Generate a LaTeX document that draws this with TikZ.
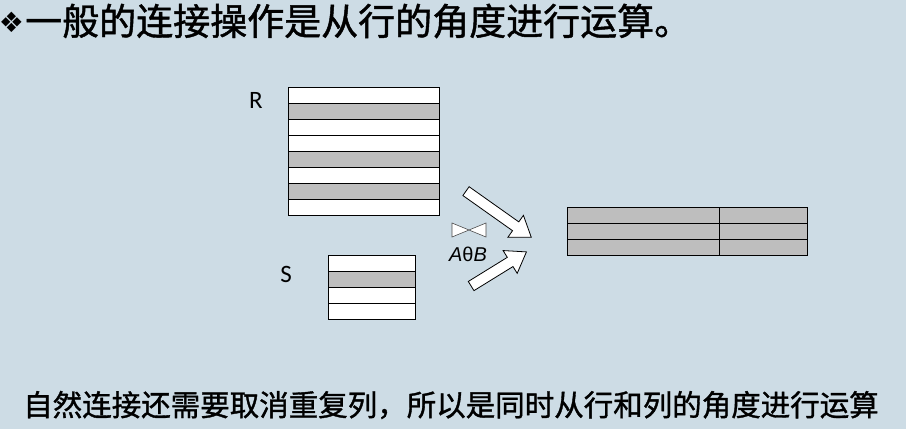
\documentclass[tikz,border=0pt]{standalone}
\usepackage{fontspec}
\setmainfont{Liberation Sans}
\newfontfamily\cjk[FakeBold=1.2]{Noto Sans CJK SC}
\newfontfamily\dingfont{DejaVu Sans}
\newfontfamily\labelfont{Carlito}
\usetikzlibrary{positioning,shapes.arrows}
\definecolor{slidebg}{RGB}{205,220,229}
\definecolor{rowgray}{RGB}{190,190,190}

\tikzset{
  whiterow/.style={draw, fill=white, line width=0.9pt, minimum width=#1,
    minimum height=16pt, inner sep=0pt, outer sep=0pt},
  grayrow/.style={whiterow=#1, fill=rowgray},
  tablabel/.style={font=\labelfont\fontsize{25}{25}\selectfont},
  bigarrow/.style={single arrow, draw, fill=white, line width=0.8pt,
    inner xsep=0pt, inner ysep=5pt, single arrow head extend=8pt,
    single arrow tip angle=70},
  bowtie/.style={draw=black!70, fill=white, line width=0.6pt}
}

\begin{document}
\begin{tikzpicture}[x=1pt, y=-1pt]
  % Background
  \fill[slidebg] (0,0) rectangle (906,429);
  \useasboundingbox (0,0) rectangle (906,429);

  % Title
  \node[anchor=center, inner sep=0pt] (bullet) at (11.5,22)
    {\dingfont\fontsize{28}{28}\selectfont ❖};
  \node[anchor=west, inner sep=0pt] (title) at (25,21)
    {\cjk\fontsize{37}{37}\selectfont 一般的连接操作是从行的角度进行运算。};

  % Relation R
  \node[whiterow=151pt, anchor=north west] (r1) at (288,87) {};
  \node[grayrow=151pt, below=0pt of r1] (r2) {};
  \node[whiterow=151pt, below=0pt of r2] (r3) {};
  \node[whiterow=151pt, below=0pt of r3] (r4) {};
  \node[grayrow=151pt, below=0pt of r4] (r5) {};
  \node[whiterow=151pt, below=0pt of r5] (r6) {};
  \node[grayrow=151pt, below=0pt of r6] (r7) {};
  \node[whiterow=151pt, below=0pt of r7] (r8) {};
  \node[tablabel] (rname) at (256,100) {R};

  % Relation S
  \node[whiterow=87pt, anchor=north west] (s1) at (328,255) {};
  \node[grayrow=87pt, below=0pt of s1] (s2) {};
  \node[whiterow=87pt, below=0pt of s2] (s3) {};
  \node[whiterow=87pt, below=0pt of s3] (s4) {};
  \node[tablabel] (sname) at (286,274) {S};

  % Result of the join
  \node[grayrow=152pt, anchor=north west] (t1) at (567,207) {};
  \node[grayrow=152pt, below=0pt of t1] (t2) {};
  \node[grayrow=152pt, below=0pt of t2] (t3) {};
  \node[grayrow=88pt, right=0pt of t1] (u1) {};
  \node[grayrow=88pt, right=0pt of t2] (u2) {};
  \node[grayrow=88pt, right=0pt of t3] (u3) {};

  % Join arrows
  \node[bigarrow, minimum height=80pt, rotate=-35.3] (fromr) at (495.5,212) {};
  \node[bigarrow, minimum height=65pt, rotate=31.7] (froms) at (495.5,271) {};

  % Join symbol
  \path[bowtie] (452,223) -- (469,230) -- (452,237) -- cycle;
  \path[bowtie] (486,223) -- (469,230) -- (486,237) -- cycle;
  \node[font=\fontsize{20}{20}\selectfont, inner sep=0pt] (cond) at (468,254)
    {\itshape A\upshape θ\itshape B};

  % Remark
  \node[inner sep=0pt] (remark) at (451,405)
    {\cjk\fontsize{29.5}{29.5}\selectfont 自然连接还需要取消重复列，所以是同时从行和列的角度进行运算};
\end{tikzpicture}
\end{document}
